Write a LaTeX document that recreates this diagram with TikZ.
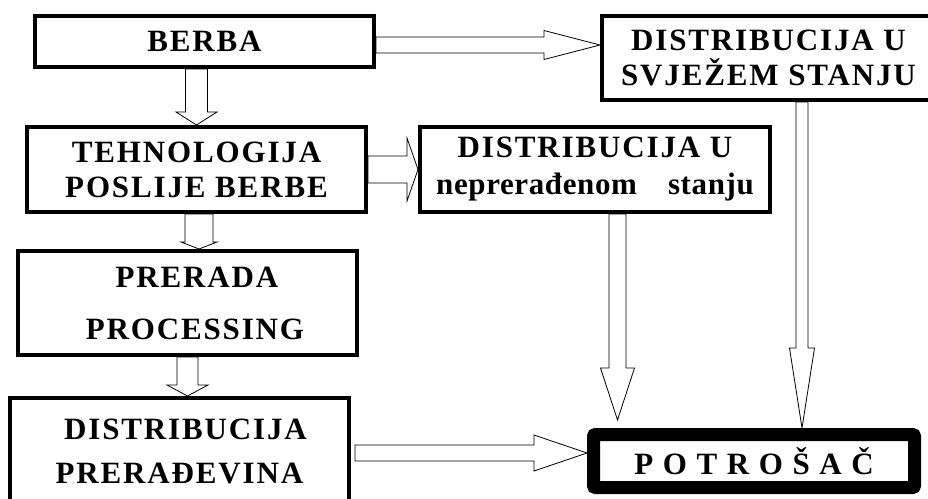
\documentclass[tikz,border=0pt]{standalone}
\usepackage{fontspec}
\setmainfont{Liberation Serif}
\newfontfamily\boxfont[LetterSpace=6]{Liberation Serif}
\usetikzlibrary{calc}

\tikzset{
  stage/.style={draw,line width=4pt,inner sep=0pt,align=center,
    font=\boxfont\bfseries\fontsize{31}{35}\selectfont},
  fatarrow/.style={draw=black,line width=0.8pt,fill=white}
}

% hollow block arrows: from, to, shaft half width, head half width, head length
\newcommand\fatright[5]{%
  \draw[fatarrow] let \p1=(#1), \p2=(#2) in
    (\x1,{\y1+#3}) -- ({\x2-#5},{\y1+#3}) -- ({\x2-#5},{\y1+#4})
    -- (\x2,\y1) -- ({\x2-#5},{\y1-#4}) -- ({\x2-#5},{\y1-#3})
    -- (\x1,{\y1-#3}) -- cycle;}
\newcommand\fatdown[5]{%
  \draw[fatarrow] let \p1=(#1), \p2=(#2) in
    ({\x1-#3},\y1) -- ({\x1-#3},{\y2+#5}) -- ({\x1-#4},{\y2+#5})
    -- (\x1,\y2) -- ({\x1+#4},{\y2+#5}) -- ({\x1+#3},{\y2+#5})
    -- ({\x1+#3},\y1) -- cycle;}

\begin{document}
\begin{tikzpicture}[x=1pt,y=-1pt]
\useasboundingbox (0,0) rectangle (928,498);
\clip (0,0) rectangle (928,498);

% Stages
\node[stage,minimum width=339pt,minimum height=51pt] (berba) at (204.5,41.5) {BERBA};
\node[stage,minimum width=339pt,minimum height=85pt] (tehno) at (196.5,169.5)
  {TEHNOLOGIJA\\POSLIJE BERBE};
\node[stage,minimum width=350pt,minimum height=85pt] (nepr) at (595,169.5)
  {DISTRIBUCIJA U\\[2pt]{\addfontfeature{LetterSpace=2}neprerađenom\hspace{31pt}stanju}};
\node[stage,minimum width=333pt,minimum height=84pt] (svjeze) at (768.5,58)
  {DISTRIBUCIJA U\\SVJEŽEM STANJU};
\node[stage,minimum width=339pt,minimum height=104pt] (prerada) at (187.5,303)
  {\hspace*{19pt}PRERADA\\[17pt]\hspace*{15pt}PROCESSING};
\node[stage,minimum width=339pt,minimum height=107pt] (preradjevine) at (179.5,451.5)
  {\hspace*{12pt}DISTRIBUCIJA\\[9pt]PRERAĐEVINA};
\node[stage,line width=13pt,rounded corners=2pt,minimum width=321pt,minimum height=53pt]
  (potrosac) at (754,461) {P O T R O Š A Č};

% Flows
\fatright{$(berba.east)+(0,3.5)$}{svjeze.west}{8pt}{14.5pt}{56pt}
\fatdown{tehno.north |- berba.south}{tehno.north}{11pt}{20.5pt}{13pt}
\fatright{tehno.east}{nepr.west}{13.5pt}{31.5pt}{11pt}
\fatdown{$(tehno.south)+(2.5,0)$}{prerada.north}{14pt}{18pt}{7pt}
\fatdown{prerada.south}{preradjevine.north}{10.5pt}{20.5pt}{11pt}
\fatdown{$(nepr.south)+(22.5,0)$}{$(potrosac.north)+(0,-8)$}{8.5pt}{17pt}{52pt}
\fatdown{$(svjeze.south)+(33.5,0)$}{potrosac.north}{6pt}{12.5pt}{80pt}
\fatright{$(preradjevine.east)+(4,1.5)$}{potrosac.west}{8pt}{18pt}{53pt}
\end{tikzpicture}
\end{document}
